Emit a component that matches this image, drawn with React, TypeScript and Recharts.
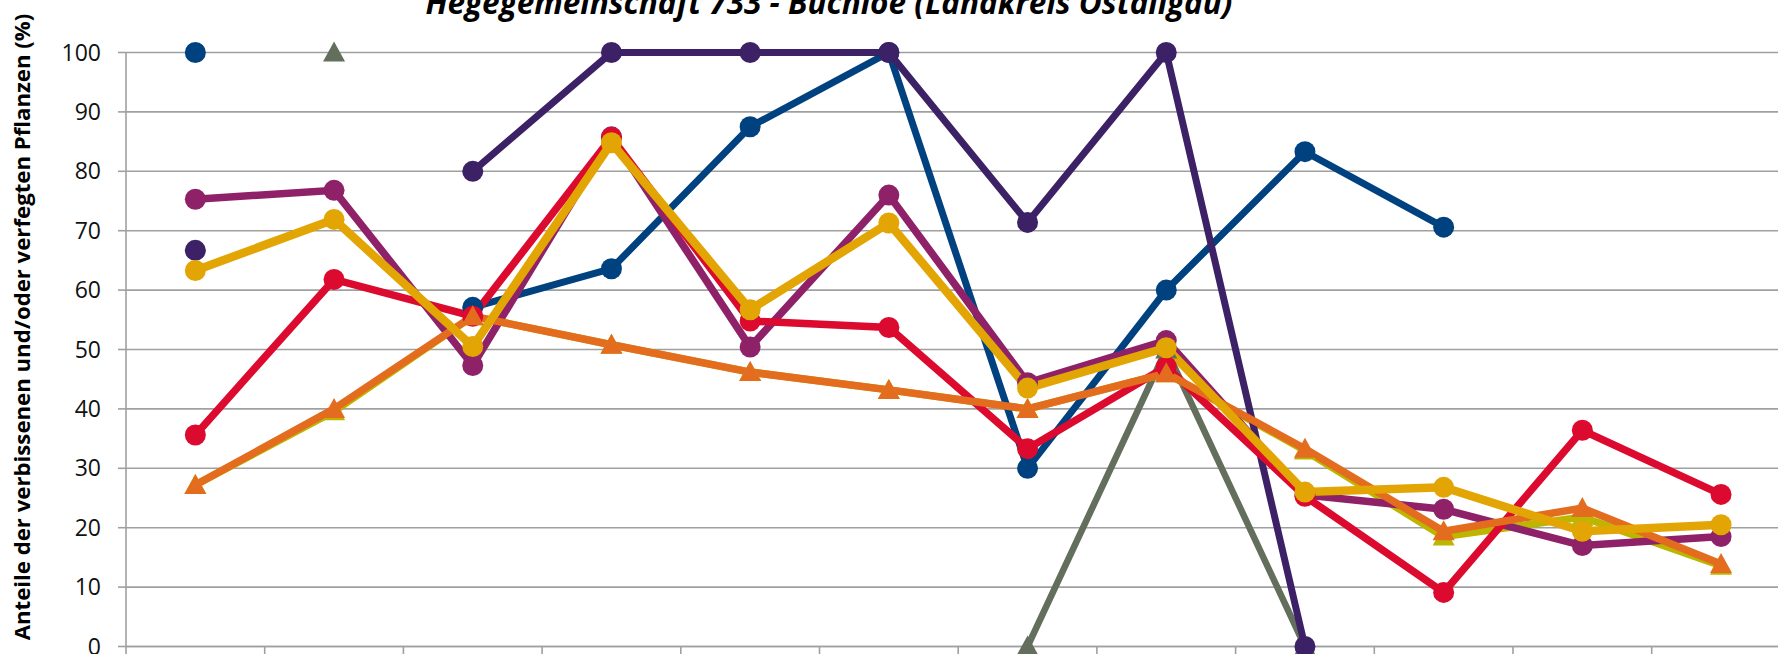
import { LineChart, Line, XAxis, YAxis, CartesianGrid } from "recharts";

const title = "Hegegemeinschaft 733 - Buchloe (Landkreis Ostallgäu)";
const yLabel = "Anteile der verbissenen und/oder verfegten Pflanzen (%)";

// x categories (their labels are cut off below the visible area)
const categories = ["1", "2", "3", "4", "5", "6", "7", "8", "9", "10", "11", "12"];
const yTicks = [0, 10, 20, 30, 40, 50, 60, 70, 80, 90, 100];

// series values, null = no value
const blue = [100, null, 57.1, 63.6, 87.5, 100, 30.0, 60.0, 83.3, 70.6, null, null];
const purple = [66.7, null, 80, 100, 100, 100, 71.4, 100, 0, null, null, null];
const magenta = [75.3, 76.8, 47.3, 85.8, 50.4, 76.0, 44.4, 51.5, 25.5, 23.1, 17.0, 18.5];
const red = [35.6, 61.8, 55.6, 85.7, 54.8, 53.7, 33.3, 47.1, 25.3, 9.1, 36.4, 25.6];
const orange = [27.2, 40.0, 55.6, 50.8, 46.2, 43.2, 40.0, 46.0, 33.3, 19.4, 23.3, 13.9];
const gold = [63.3, 71.9, 50.5, 84.8, 56.7, 71.3, 43.5, 50.3, 26.0, 26.8, 19.4, 20.5];
const gray = [null, 100, null, null, null, null, 0, 50, 0, null, null, null];
const olive = [27.2, 39.6, 55.6, 50.8, 46.2, 43.2, 40.0, 46.0, 33.0, 18.5, 21.8, 13.6];

const data = categories.map((c, i) => ({
  x: i + 0.5,
  cat: c,
  blue: blue[i],
  purple: purple[i],
  magenta: magenta[i],
  red: red[i],
  orange: orange[i],
  gold: gold[i],
  gray: gray[i],
  olive: olive[i],
}));

const xTicks = categories.map((_, i) => i).concat(categories.length);

const FONT = "'Open Sans', 'Noto Sans', sans-serif";

const triangleDot = (color: string) => (props: any) => {
  const { cx, cy, index } = props;
  if (cx == null || cy == null) return <g key={`t-${color}-${index}`} />;
  const pts = `${cx},${cy - 11} ${cx + 11},${cy + 9} ${cx - 11},${cy + 9}`;
  return <polygon key={`t-${color}-${index}`} points={pts} fill={color} />;
};

const circleDot = (color: string) => ({ r: 10.5, fill: color, stroke: color, strokeWidth: 0 });

export default function App() {
  return (
    <div
      style={{
        position: "absolute",
        left: 0,
        top: 0,
        width: 1778,
        height: 654,
        overflow: "hidden",
        background: "#fff",
      }}
    >
      <LineChart
        width={1800}
        height={680}
        data={data}
        margin={{ top: 52.5, right: 9.6, left: 0, bottom: 3.5 }}
      >
        <CartesianGrid vertical={false} stroke="#a0a0a0" strokeWidth={1.6} />
        <XAxis
          dataKey="x"
          type="number"
          domain={[0, categories.length]}
          ticks={xTicks}
          tickFormatter={() => ""}
          tickSize={14}
          height={30}
          axisLine={{ stroke: "#a0a0a0", strokeWidth: 1.6 }}
          tickLine={{ stroke: "#a0a0a0", strokeWidth: 1.6 }}
        />
        <YAxis
          type="number"
          domain={[0, 100]}
          ticks={yTicks}
          width={126}
          tickSize={8}
          tickMargin={17}
          axisLine={{ stroke: "#a0a0a0", strokeWidth: 1.6 }}
          tickLine={{ stroke: "#a0a0a0", strokeWidth: 1.6 }}
          tick={{ fontSize: 23, fill: "#111", fontFamily: FONT }}
        />
        <Line dataKey="gray" stroke="#636f5c" strokeWidth={6.5} dot={triangleDot("#636f5c")} activeDot={false} isAnimationActive={false} />
        <Line dataKey="olive" stroke="#bdb600" strokeWidth={7.5} dot={triangleDot("#bdb600")} activeDot={false} isAnimationActive={false} />
        <Line dataKey="blue" stroke="#00427f" strokeWidth={7} dot={circleDot("#00427f")} activeDot={false} isAnimationActive={false} />
        <Line dataKey="purple" stroke="#3c2166" strokeWidth={7} dot={circleDot("#3c2166")} activeDot={false} isAnimationActive={false} />
        <Line dataKey="magenta" stroke="#8e2168" strokeWidth={7.5} dot={circleDot("#8e2168")} activeDot={false} isAnimationActive={false} />
        <Line dataKey="red" stroke="#dc0a2e" strokeWidth={7.5} dot={circleDot("#dc0a2e")} activeDot={false} isAnimationActive={false} />
        <Line dataKey="orange" stroke="#e36c1f" strokeWidth={7.5} dot={triangleDot("#e36c1f")} activeDot={false} isAnimationActive={false} />
        <Line dataKey="gold" stroke="#e2a504" strokeWidth={8.5} dot={circleDot("#e2a504")} activeDot={false} isAnimationActive={false} />
      </LineChart>
      <svg
        width={1778}
        height={654}
        style={{ position: "absolute", left: 0, top: 0, pointerEvents: "none" }}
      >
        <text
          x={829}
          y={14}
          textAnchor="middle"
          fontFamily={FONT}
          fontSize={31.5}
          fontWeight="bold"
          fontStyle="italic"
          fill="#000"
        >
          {title}
        </text>
        <text
          transform="translate(30,327) rotate(-90)"
          textAnchor="middle"
          fontFamily={FONT}
          fontSize={22.2}
          fontWeight="bold"
          fill="#000"
        >
          {yLabel}
        </text>
      </svg>
    </div>
  );
}
